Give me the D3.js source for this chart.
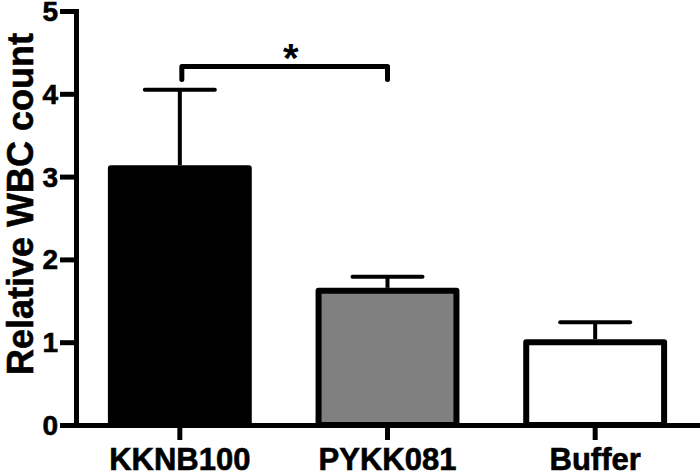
<!DOCTYPE html>
<html>
<head>
<meta charset="utf-8">
<script src="https://cdn.jsdelivr.net/npm/d3@7.9.0/dist/d3.min.js"></script>
<style>
    body { margin: 0; background: #fff; }
    svg { display: block; font-family: "Liberation Sans", Arial, sans-serif; font-weight: bold; }
</style>
</head>
<body>
<div id="chart"></div>
<script>
"use strict";

// Data
const categories = ["KKNB100", "PYKK081", "Buffer"];
const means = [3.1, 1.62, 1.0];
const errors = [0.95, 0.17, 0.24];
const fills = ["#000000", "#808080", "#ffffff"];
const yTicks = [0, 1, 2, 3, 4, 5];
const yTitle = "Relative WBC count";
const sigFrom = ["KKNB100"];
const sigTo = ["PYKK081"];
const sigLevel = [4.33];
const sigLabel = ["*"];

const width = 700;
const height = 473;
const margin = { top: 11, right: 1, bottom: 48, left: 76 };

const svg = d3.select("#chart").append("svg")
    .attr("width", width)
    .attr("height", height);

const x = d3.scaleBand()
    .domain(categories)
    .range([margin.left, width - margin.right])
    .paddingInner(0.336)
    .paddingOuter(0.168);

const y = d3.scaleLinear()
    .domain([0, 5])
    .range([height - margin.bottom, margin.top]);

// Bars
svg.append("g")
    .selectAll("rect")
    .data(categories)
    .join("rect")
    .attr("x", (d) => x(d))
    .attr("y", (d, i) => y(means[i]))
    .attr("width", x.bandwidth())
    .attr("height", (d, i) => y(0) - y(means[i]))
    .attr("fill", (d, i) => fills[i])
    .attr("stroke", "#000")
    .attr("stroke-width", 6)
    .attr("stroke-linejoin", "round");

// Error bars (upper only)
const err = svg.append("g")
    .attr("stroke", "#000")
    .attr("stroke-width", 4)
    .attr("stroke-linecap", "round");

err.selectAll("line.stem")
    .data(categories)
    .join("line")
    .attr("class", "stem")
    .attr("stroke-linecap", "butt")
    .attr("x1", (d) => x(d) + x.bandwidth() / 2)
    .attr("x2", (d) => x(d) + x.bandwidth() / 2)
    .attr("y1", (d, i) => y(means[i]) - 3)
    .attr("y2", (d, i) => y(means[i] + errors[i]));

err.selectAll("line.cap")
    .data(categories)
    .join("line")
    .attr("class", "cap")
    .attr("x1", (d) => x(d) + x.bandwidth() / 2 - 35)
    .attr("x2", (d) => x(d) + x.bandwidth() / 2 + 35)
    .attr("y1", (d, i) => y(means[i] + errors[i]))
    .attr("y2", (d, i) => y(means[i] + errors[i]));

// Axes
const yAxis = svg.append("g")
    .attr("transform", `translate(${margin.left}, 0)`)
    .call(d3.axisLeft(y).tickValues(yTicks).tickFormat(d3.format("d")).tickSize(16).tickSizeOuter(0).tickPadding(2));

const xAxis = svg.append("g")
    .attr("transform", `translate(0, ${y(0)})`)
    .call(d3.axisBottom(x).tickSize(15).tickSizeOuter(0).tickPadding(8));

for (const ax of [yAxis, xAxis]) {
    ax.select(".domain")
        .attr("stroke-width", 5)
        .attr("stroke-linecap", "square");
    ax.selectAll(".tick line")
        .attr("stroke-width", 5);
    ax.selectAll(".tick text")
        .attr("fill", "#000")
        .attr("stroke", "#000")
        .attr("stroke-width", 0.6)
        .style("font-family", "\"Liberation Sans\", Arial, sans-serif")
        .style("font-weight", "bold");
}
yAxis.selectAll(".tick text").style("font-size", "28px").attr("dy", "0.34em");
xAxis.selectAll(".tick text").style("font-size", "31px").attr("dy", "0.7em");

// Y axis title
svg.append("text")
    .attr("transform", `translate(33, 204) rotate(-90)`)
    .attr("text-anchor", "middle")
    .attr("stroke", "#000")
    .attr("stroke-width", 0.6)
    .style("font-size", "36px")
    .text(yTitle);

// Significance bracket
sigFrom.forEach((from, i) => {
    const x1 = x(from) + x.bandwidth() / 2 + 2;
    const x2 = x(sigTo[i]) + x.bandwidth() / 2;
    const yy = y(sigLevel[i]);
    svg.append("path")
        .attr("d", `M${x1},${yy + 13}V${yy}H${x2}V${yy + 13}`)
        .attr("fill", "none")
        .attr("stroke", "#000")
        .attr("stroke-width", 5)
        .attr("stroke-linecap", "round")
        .attr("stroke-linejoin", "round");
    svg.append("text")
        .attr("x", (x1 + x2) / 2 + 6)
        .attr("y", yy + 6)
        .attr("text-anchor", "middle")
        .style("font-size", "40px")
        .text(sigLabel[i]);
});
</script>
</body>
</html>
